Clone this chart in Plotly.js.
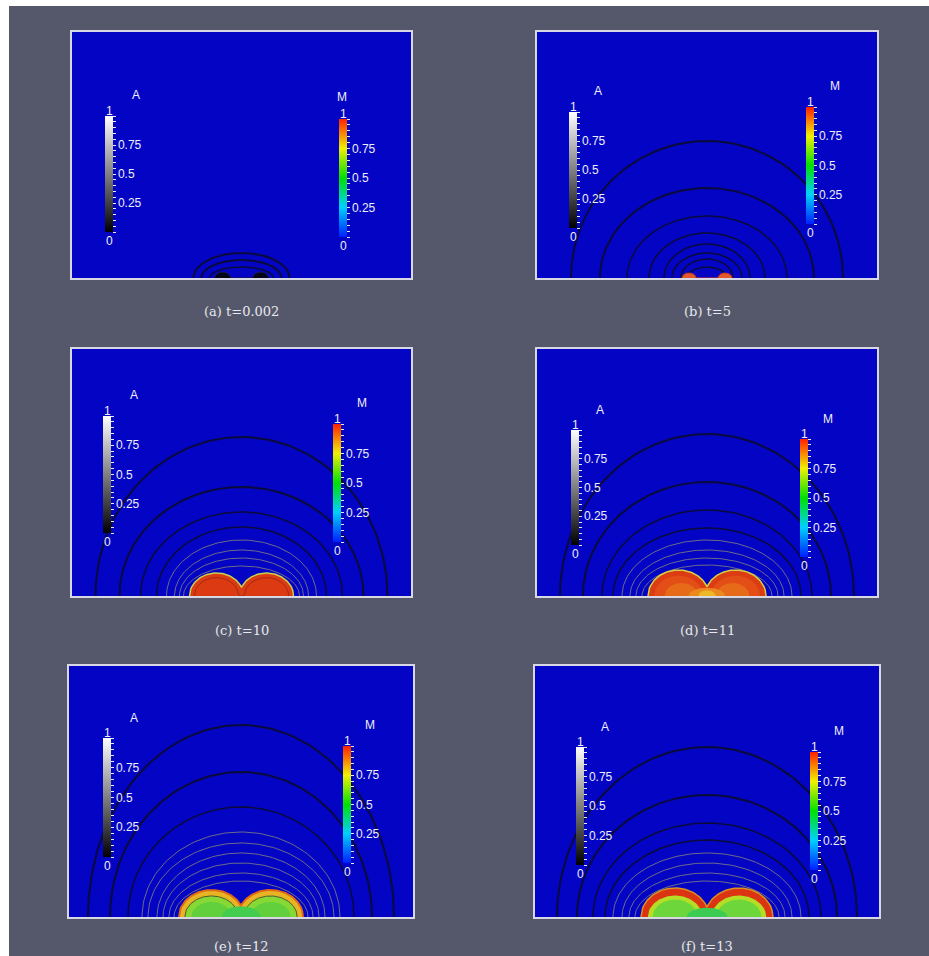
<!DOCTYPE html>
<html><head><meta charset="utf-8">
<script src="https://cdn.plot.ly/plotly-3.0.1.min.js"></script>
<style>
html,body{margin:0;padding:0;background:#ffffff;width:929px;height:956px;overflow:hidden}
#chart{position:absolute;left:9px;top:6px;width:920px;height:950px}
</style></head>
<body><div id="chart"></div>
<script>
// ---------------- data ----------------
const panelCaptions = ['(a) t=0.002','(b) t=5','(c) t=10','(d) t=11','(e) t=12','(f) t=13'];

// contour arcs of A (half width, height) in pixel units of each panel
const arcHalfWidthA = [48, 40, 32];
const arcHeightA    = [25, 18, 11];
const arcHalfWidthB = [136, 107, 80, 58, 43, 35, 26, 20];
const arcHeightB    = [137, 90, 62, 45, 34, 25, 19, 11];
const arcHalfWidthC = [146, 122, 101, 85, 75, 67, 62, 58];
const arcHeightC    = [159, 109, 84, 69, 56, 46, 38, 30];
const arcHalfWidthD = [147, 124, 105, 94, 85, 77, 71, 65];
const arcHeightD    = [162, 114, 86, 68, 56, 46, 38, 31];
const arcHalfWidthE = [153, 131, 113, 99, 93, 84, 78, 72, 67];
const arcHeightE    = [192, 145, 110, 85, 74, 64, 54, 44, 36];
const arcHalfWidthF = [150, 130, 114, 102, 94, 85, 78, 72];
const arcHeightF    = [170, 122, 94, 77, 64, 54, 44, 36];

// M-region lobes (two lobes mirrored about the centre line)
const lobeCenter = [19, 18, 25, 28.5, 29.5, 32];
const lobeHalfX  = [8, 7, 27, 30.5, 32.5, 34];
const lobeHeight = [6, 5, 23, 26, 27, 29];

// colour bar ticks
const barTickVals = [0,0.05,0.1,0.15,0.2,0.25,0.3,0.35,0.4,0.45,0.5,0.55,0.6,0.65,0.7,0.75,0.8,0.85,0.9,0.95,1];
const barTickText = ['','','','','','0.25','','','','','0.5','','','','','0.75','','','','',''];
const barEndLabels = ['0','1'];
const barTitles = ['A','M'];

// ---------------- layout / style ----------------
const arcsW = [arcHalfWidthA, arcHalfWidthB, arcHalfWidthC, arcHalfWidthD, arcHalfWidthE, arcHalfWidthF];
const arcsH = [arcHeightA, arcHeightB, arcHeightC, arcHeightD, arcHeightE, arcHeightF];
const darkCount = [3, 8, 4, 4, 3, 4];

const OX = 9, OY = 6, W = 920, H = 950;
const fx = px => (px - OX) / W;
const fy = py => 1 - (py - OY) / H;

const boxes = [
  {l:72, r:411, t:32, b:278}, {l:537, r:877, t:32, b:278},
  {l:72, r:411, t:349, b:596}, {l:537, r:877, t:349, b:596},
  {l:69, r:413, t:666, b:917}, {l:535, r:879, t:666, b:917}
];
const captionY = [312, 312, 630, 630, 946, 946];
const barsA = [
  {x:105,t:116,b:232},{x:569,t:112,b:228},{x:103,t:416,b:533},
  {x:571,t:430,b:545},{x:103,t:738,b:857},{x:576,t:747,b:865}];
const barsM = [
  {x:339,t:119,b:237},{x:806,t:107,b:224},{x:333,t:424,b:542},
  {x:800,t:439,b:557},{x:343,t:746,b:863},{x:810,t:752,b:870}];
const titleA = [[136,95],[598,91],[134,395],[600,410],[134,718],[605,727]];
const titleM = [[342,97],[835,86],[362,403],[828,419],[370,725],[839,731]];

const N = 'rgba(0,0,0,0)';
const lobeLayers = [
  [{kc:1,ka:1,ky:1,fill:'#05051a',line:'#1a1a50',lw:1}],
  [{kc:1,ka:1,ky:1,fill:'#e2582a',line:'#c83c1c',lw:1}],
  [{kc:1,ka:1,ky:1,fill:'#dc3a12',line:'#c8d04c',lw:1.5},
   {kc:1,ka:0.82,ky:0.8,fill:'#dc3a12',line:'#a02a14',lw:1}],
  [{kc:1,ka:1,ky:1,fill:'#dc3c14',line:'#d8d040',lw:1.5},
   {kc:1,ka:0.8,ky:0.78,fill:'#e24e16',line:N,lw:0},
   {kc:0.9,ka:0.55,ky:0.5,fill:'#e66a18',line:N,lw:0},
   {kc:0,ka:0.6,ky:0.32,fill:'#ea8a1e',line:N,lw:0},
   {kc:0,ka:0.28,ky:0.22,fill:'#ecb828',line:N,lw:0}],
  [{kc:1,ka:1,ky:1,fill:'#e8b424',line:'#e06a14',lw:2},
   {kc:1,ka:0.82,ky:0.78,fill:'#86d834',line:'#4c5a2a',lw:1},
   {kc:1,ka:0.62,ky:0.56,fill:'#62d03c',line:N,lw:0},
   {kc:0,ka:0.6,ky:0.4,fill:'#44cc50',line:N,lw:0}],
  [{kc:1,ka:1,ky:1,fill:'#dc3412',line:'#d89020',lw:1.5},
   {kc:1,ka:0.8,ky:0.74,fill:'#b4de26',line:N,lw:0},
   {kc:1,ka:0.66,ky:0.6,fill:'#6cd63a',line:N,lw:0},
   {kc:0,ka:0.6,ky:0.32,fill:'#3ccc54',line:N,lw:0}]
];

const greyScale = [[0,'#000000'],[1,'#ffffff']];
const rainbow = [[0,'#0020ff'],[0.25,'#00d0ff'],[0.5,'#00e000'],[0.75,'#f0f000'],[1,'#ff2000']];
const labelFont = {family:'Liberation Sans, Arial, sans-serif', size:12, color:'#eeeef6'};

const traces = [];
const layout = {
  width: W, height: H,
  margin: {l:0, r:0, t:0, b:0, autoexpand:false},
  paper_bgcolor: '#54586a',
  plot_bgcolor: '#0404c4',
  showlegend: false,
  annotations: []
};

function ellipseArc(a, b) {
  const xs = [], ys = [];
  for (let k = 0; k <= 90; k++) {
    const th = Math.PI * k / 90;
    xs.push(a * Math.cos(th)); ys.push(b * Math.sin(th));
  }
  return [xs, ys];
}
function lobeOutline(cx, ax, ay) {
  const L = cx + ax, xs = [], ys = [];
  for (let k = 0; k <= 160; k++) {
    const x = -L + 2 * L * k / 160;
    let y = 0;
    for (const c of [-cx, cx]) {
      const u = (x - c) / ax;
      if (Math.abs(u) <= 1) y = Math.max(y, ay * Math.sqrt(1 - u * u));
    }
    xs.push(x); ys.push(y);
  }
  return [xs, ys];
}

for (let i = 0; i < 6; i++) {
  const s = i ? String(i + 1) : '';
  const xa = 'x' + s, ya = 'y' + s;
  const bx = boxes[i], w = bx.r - bx.l, h = bx.b - bx.t;
  layout['xaxis' + s] = {domain:[fx(bx.l), fx(bx.r)], range:[-w/2, w/2], anchor:ya,
    showgrid:false, zeroline:false, showticklabels:false, ticks:'',
    showline:true, mirror:true, linecolor:'#d8d8e4', linewidth:2, fixedrange:true};
  layout['yaxis' + s] = {domain:[fy(bx.b), fy(bx.t)], range:[0, h], anchor:xa,
    showgrid:false, zeroline:false, showticklabels:false, ticks:'',
    showline:true, mirror:true, linecolor:'#d8d8e4', linewidth:2, fixedrange:true};

  // A contour arcs
  arcsW[i].forEach((a, j) => {
    const [xs, ys] = ellipseArc(a, arcsH[i][j]);
    const dark = j < darkCount[i];
    traces.push({type:'scatter', mode:'lines', x:xs, y:ys, xaxis:xa, yaxis:ya,
      line:{color: dark ? '#0a0a3c' : '#6c6c8a', width: dark ? (j < 2 ? 2 : 1.5) : 1},
      hoverinfo:'skip', showlegend:false});
  });

  // M lobes
  lobeLayers[i].forEach(Ly => {
    const [xs, ys] = lobeOutline(lobeCenter[i] * Ly.kc, lobeHalfX[i] * Ly.ka, lobeHeight[i] * Ly.ky);
    traces.push({type:'scatter', mode:'lines', x:xs, y:ys, xaxis:xa, yaxis:ya,
      fill:'tozeroy', fillcolor:Ly.fill, line:{color:Ly.line, width:Ly.lw},
      hoverinfo:'skip', showlegend:false});
  });

  // colour bars
  [[barsA[i], greyScale, titleA[i], barTitles[0]], [barsM[i], rainbow, titleM[i], barTitles[1]]].forEach(([b, cs, tp, tt]) => {
    traces.push({type:'scatter', mode:'markers', x:[1e6], y:[1e6], xaxis:xa, yaxis:ya,
      marker:{color:[0.5], cmin:0, cmax:1, colorscale:cs, showscale:true, opacity:0,
        colorbar:{x:fx(b.x), xanchor:'left', y:fy(b.t), yanchor:'top',
          len:b.b - b.t, lenmode:'pixels', thickness:8, thicknessmode:'pixels',
          xpad:0, ypad:0, outlinewidth:0, borderwidth:0, bgcolor:'rgba(0,0,0,0)',
          tickmode:'array', tickvals:barTickVals, ticktext:barTickText,
          ticks:'outside', ticklen:3, tickwidth:1, tickcolor:'#e8e8f2',
          tickfont:labelFont}},
      hoverinfo:'skip', showlegend:false});
    layout.annotations.push({xref:'paper', yref:'paper', x:fx(tp[0]), y:fy(tp[1]),
      xanchor:'center', yanchor:'middle', text:tt, showarrow:false, font:labelFont});
    layout.annotations.push({xref:'paper', yref:'paper', x:fx(b.x + 4), y:fy(b.t - 5),
      xanchor:'center', yanchor:'middle', text:barEndLabels[1], showarrow:false, font:labelFont});
    layout.annotations.push({xref:'paper', yref:'paper', x:fx(b.x + 4), y:fy(b.b + 9),
      xanchor:'center', yanchor:'middle', text:barEndLabels[0], showarrow:false, font:labelFont});
  });

  layout.annotations.push({xref:'paper', yref:'paper', x:fx((bx.l + bx.r) / 2), y:fy(captionY[i]),
    xanchor:'center', yanchor:'middle', text:panelCaptions[i], showarrow:false,
    font:{family:'DejaVu Serif, Liberation Serif, serif', size:13, color:'#e8e8f0'}});
}

Plotly.newPlot('chart', traces, layout, {staticPlot:true, displayModeBar:false});
</script>
</body></html>
